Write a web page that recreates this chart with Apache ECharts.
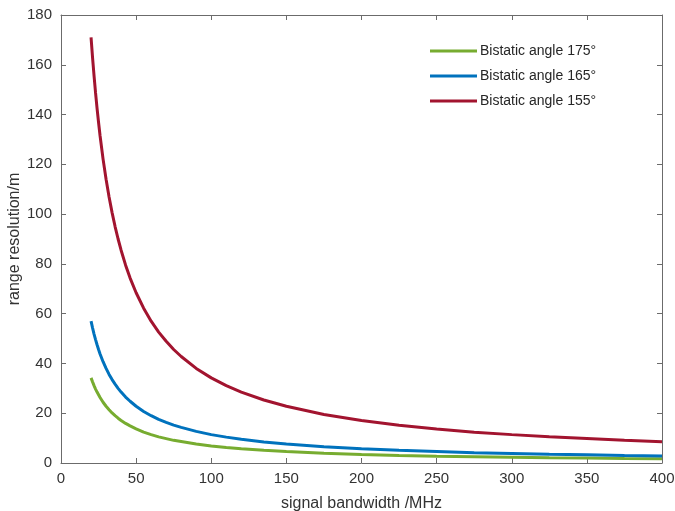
<!DOCTYPE html>
<html><head><meta charset="utf-8">
<script src="https://cdn.jsdelivr.net/npm/echarts@6/dist/echarts.min.js"></script>
<style>html,body{margin:0;padding:0;background:#fff}#c{width:675px;height:511px}</style>
</head><body><div id="c"></div>
<script>
const bandwidth = [20, 21, 22, 23, 24, 25, 26, 28, 30, 32, 34, 36, 38, 40, 43, 46, 50, 55, 60, 65, 70, 75, 80, 90, 100, 110, 120, 135, 150, 175, 200, 225, 250, 275, 300, 325, 350, 375, 400];
const res175 = [34.2, 32.6, 31.1, 29.7, 28.5, 27.4, 26.3, 24.4, 22.8, 21.4, 20.1, 19.0, 18.0, 17.1, 15.9, 14.9, 13.7, 12.4, 11.4, 10.5, 9.8, 9.1, 8.6, 7.6, 6.8, 6.2, 5.7, 5.1, 4.6, 3.9, 3.4, 3.0, 2.7, 2.5, 2.3, 2.1, 2.0, 1.8, 1.7];
const res165 = [57.0, 54.3, 51.8, 49.6, 47.5, 45.6, 43.8, 40.7, 38.0, 35.6, 33.5, 31.7, 30.0, 28.5, 26.5, 24.8, 22.8, 20.7, 19.0, 17.5, 16.3, 15.2, 14.3, 12.7, 11.4, 10.4, 9.5, 8.4, 7.6, 6.5, 5.7, 5.1, 4.6, 4.1, 3.8, 3.5, 3.3, 3.0, 2.85];
const res155 = [171.0, 162.9, 155.5, 148.7, 142.5, 136.8, 131.5, 122.1, 114.0, 106.9, 100.6, 95.0, 90.0, 85.5, 79.5, 74.3, 68.4, 62.2, 57.0, 52.6, 48.9, 45.6, 42.8, 38.0, 34.2, 31.1, 28.5, 25.3, 22.8, 19.5, 17.1, 15.2, 13.7, 12.4, 11.4, 10.5, 9.8, 9.1, 8.55];
const seriesNames = ['Bistatic angle 175°', 'Bistatic angle 165°', 'Bistatic angle 155°'];
const seriesColors = ['#77AC30', '#0072BD', '#A2142F'];
const xTicks = {min: 0, max: 400, interval: 50};
const yTicks = {min: 0, max: 180, interval: 20};

const pair = (ys) => bandwidth.map((x, i) => [x, ys[i]]);
const chart = echarts.init(document.getElementById('c'));
const axisColor = '#6b6b6b';
const font = 'Liberation Sans, Arial, sans-serif';
const baseAxis = () => ({
  axisLine: {show: true, onZero: false, lineStyle: {color: axisColor, width: 1}},
  axisTick: {show: true, inside: true, length: 5, lineStyle: {color: axisColor}},
  splitLine: {show: false},
});
chart.setOption({
  animation: false,
  grid: {left: 61, right: 13, top: 15, bottom: 48, containLabel: false, outerBoundsMode: 'none'},
  legend: {
    data: seriesNames, orient: 'vertical', left: 430, top: 44, padding: 0,
    itemWidth: 47, itemHeight: 3, itemGap: 11, icon: 'rect',
    textStyle: {fontFamily: font, fontSize: 14, color: '#262626', padding: [0,0,0,-2]}
  },
  xAxis: [
    Object.assign(baseAxis(), {type: 'value', min: xTicks.min, max: xTicks.max, interval: xTicks.interval,
      name: 'signal bandwidth /MHz', nameLocation: 'middle', nameGap: 33, nameMoveOverlap: false,
      nameTextStyle: {fontFamily: font, fontSize: 16, color: '#333'},
      axisLabel: {fontFamily: font, fontSize: 15, color: '#333', margin: 8}}),
    Object.assign(baseAxis(), {type: 'value', position: 'top', min: xTicks.min, max: xTicks.max, interval: xTicks.interval,
      axisLabel: {show: false}})
  ],
  yAxis: [
    Object.assign(baseAxis(), {type: 'value', min: yTicks.min, max: yTicks.max, interval: yTicks.interval,
      name: 'range resolution/m', nameLocation: 'middle', nameGap: 38, nameMoveOverlap: false,
      nameTextStyle: {fontFamily: font, fontSize: 16, color: '#333'},
      axisLabel: {fontFamily: font, fontSize: 15, color: '#333', margin: 9}}),
    Object.assign(baseAxis(), {type: 'value', position: 'right', min: yTicks.min, max: yTicks.max, interval: yTicks.interval,
      axisLabel: {show: false}})
  ],
  series: [res175, res165, res155].map((ys, i) => ({
    name: seriesNames[i], type: 'line', data: pair(ys), smooth: false,
    showSymbol: false, symbol: 'none', color: seriesColors[i],
    lineStyle: {width: 3, color: seriesColors[i]}
  }))
});
</script></body></html>
